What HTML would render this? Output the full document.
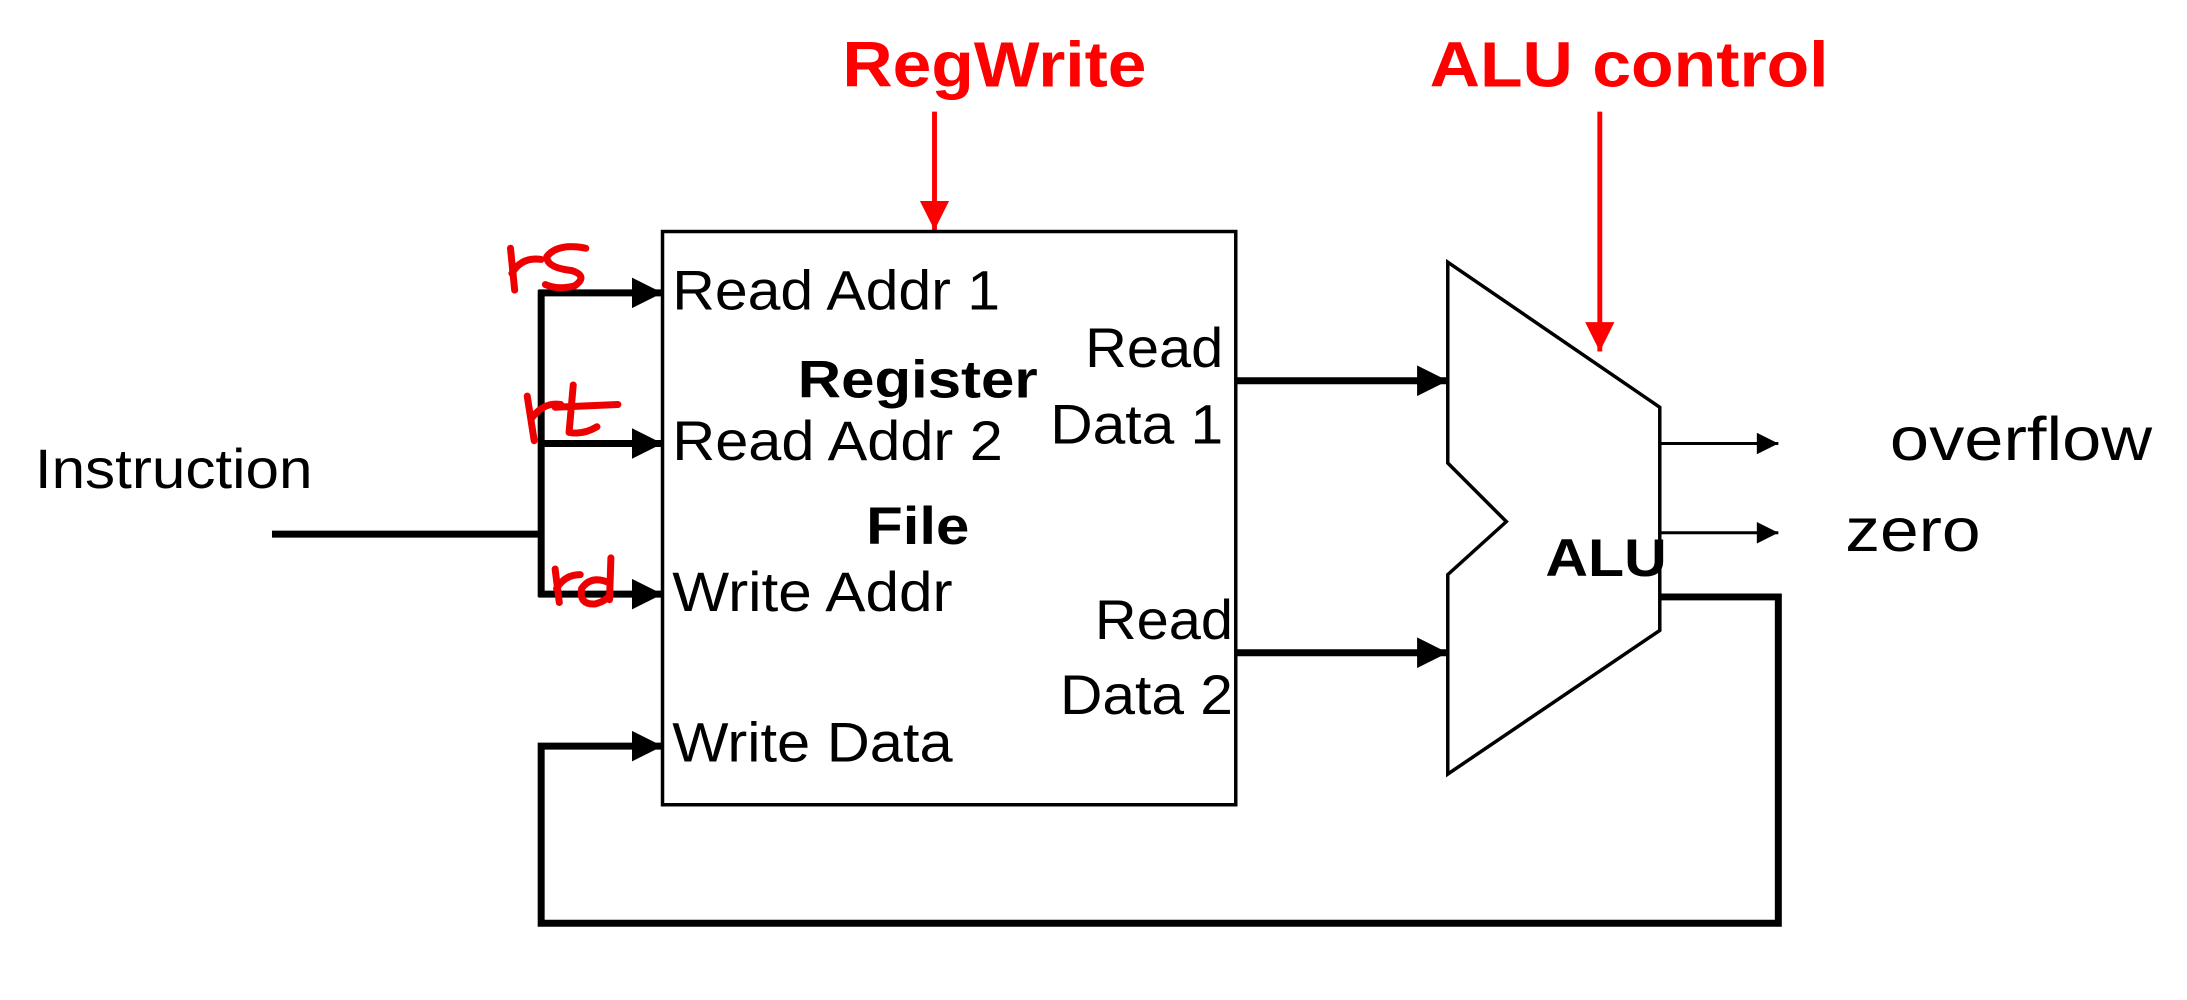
<!DOCTYPE html>
<html><head><meta charset="utf-8"><style>
html,body{margin:0;padding:0;background:#fff;}
svg{display:block;}
text{font-family:"Liberation Sans",Arial,sans-serif;}
</style></head><body>
<svg width="2187" height="1000" viewBox="0 0 1568 717" preserveAspectRatio="none" xmlns="http://www.w3.org/2000/svg">
<defs>
<marker id="ab" viewBox="0 0 10 10" refX="10" refY="5" markerWidth="4.4" markerHeight="4.4" orient="auto" markerUnits="strokeWidth"><path d="M0,0 L10,5 L0,10 z" fill="#000"/></marker>
<marker id="at" viewBox="0 0 10 10" refX="10" refY="5" markerWidth="9" markerHeight="7" orient="auto" markerUnits="strokeWidth"><path d="M0,0 L10,5 L0,10 z" fill="#000"/></marker>
<marker id="ar" viewBox="0 0 10 10" refX="10" refY="5" markerWidth="6" markerHeight="6" orient="auto" markerUnits="strokeWidth"><path d="M0,0 L10,5 L0,10 z" fill="#f00"/></marker>
</defs>
<text x="713" y="62" font-size="46" font-weight="bold" fill="#f00" text-anchor="middle" textLength="218" lengthAdjust="spacingAndGlyphs">RegWrite</text>
<text x="1168" y="62" font-size="46" font-weight="bold" fill="#f00" text-anchor="middle" textLength="286" lengthAdjust="spacingAndGlyphs">ALU control</text>
<line x1="670" y1="80" x2="670" y2="165" stroke="#f00" stroke-width="3.5" marker-end="url(#ar)"/>
<line x1="1147" y1="80" x2="1147" y2="252" stroke="#f00" stroke-width="3.5" marker-end="url(#ar)"/>
<rect x="475" y="166" width="411" height="411" fill="none" stroke="#000" stroke-width="2.5"/>
<g font-size="40" fill="#000">
<text x="482" y="222" textLength="235" lengthAdjust="spacingAndGlyphs">Read Addr 1</text>
<text x="482" y="330" textLength="237" lengthAdjust="spacingAndGlyphs">Read Addr 2</text>
<text x="482" y="438" textLength="201" lengthAdjust="spacingAndGlyphs">Write Addr</text>
<text x="482" y="546" textLength="201" lengthAdjust="spacingAndGlyphs">Write Data</text>
<text x="877" y="263" text-anchor="end" textLength="99" lengthAdjust="spacingAndGlyphs">Read</text>
<text x="877" y="318" text-anchor="end" textLength="124" lengthAdjust="spacingAndGlyphs">Data 1</text>
<text x="884" y="458" text-anchor="end" textLength="99" lengthAdjust="spacingAndGlyphs">Read</text>
<text x="884" y="512" text-anchor="end" textLength="124" lengthAdjust="spacingAndGlyphs">Data 2</text>
<text x="25" y="350" textLength="199" lengthAdjust="spacingAndGlyphs">Instruction</text>
<text x="1355" y="330" font-size="44" textLength="188" lengthAdjust="spacingAndGlyphs">overflow</text>
<text x="1323" y="395" font-size="44" textLength="97" lengthAdjust="spacingAndGlyphs">zero</text>
</g>
<text x="658" y="285" font-size="38" font-weight="bold" text-anchor="middle" textLength="172" lengthAdjust="spacingAndGlyphs">Register</text>
<text x="658" y="390" font-size="38" font-weight="bold" text-anchor="middle" textLength="74" lengthAdjust="spacingAndGlyphs">File</text>
<g stroke="#000" stroke-width="5" fill="none">
<line x1="195" y1="383" x2="390" y2="383"/>
<line x1="388" y1="208" x2="388" y2="428"/>
<line x1="386" y1="210" x2="475" y2="210" marker-end="url(#ab)"/>
<line x1="386" y1="318" x2="475" y2="318" marker-end="url(#ab)"/>
<line x1="386" y1="426" x2="475" y2="426" marker-end="url(#ab)"/>
<line x1="886" y1="273" x2="1038" y2="273" marker-end="url(#ab)"/>
<line x1="886" y1="468" x2="1038" y2="468" marker-end="url(#ab)"/>
<path d="M1190,428 L1275,428 L1275,662 L388,662 L388,535 L475,535" marker-end="url(#ab)"/>
</g>
<polygon points="1038,188 1190,292 1190,452 1038,555 1038,412 1080,374 1038,332" fill="none" stroke="#000" stroke-width="2.5"/>
<text x="1108" y="413" font-size="38" font-weight="bold" textLength="87" lengthAdjust="spacingAndGlyphs">ALU</text>
<line x1="1190" y1="318" x2="1275" y2="318" stroke="#000" stroke-width="2.2" marker-end="url(#at)"/>
<line x1="1190" y1="382" x2="1275" y2="382" stroke="#000" stroke-width="2.2" marker-end="url(#at)"/>
<g stroke="#e00" stroke-width="5" fill="none" stroke-linecap="round" stroke-linejoin="round">
<path d="M366,178 L369,208 M367,196 Q374,184 388,186"/>
<path d="M420,178 Q400,174 392,184 Q392,192 410,194 Q422,198 412,205 Q400,208 391,204"/>
<path d="M378,284 L383,316 M381,300 Q390,288 402,290"/>
<path d="M411,276 L408,310 Q418,312 428,306 M398,292 L443,290"/>
<path d="M398,408 L401,432 M399,422 Q405,412 416,412"/>
<path d="M438,400 L437,430 M437,418 Q424,412 417,422 Q415,434 427,433 Q434,431 437,427"/>
</g>
</svg>
</body></html>
